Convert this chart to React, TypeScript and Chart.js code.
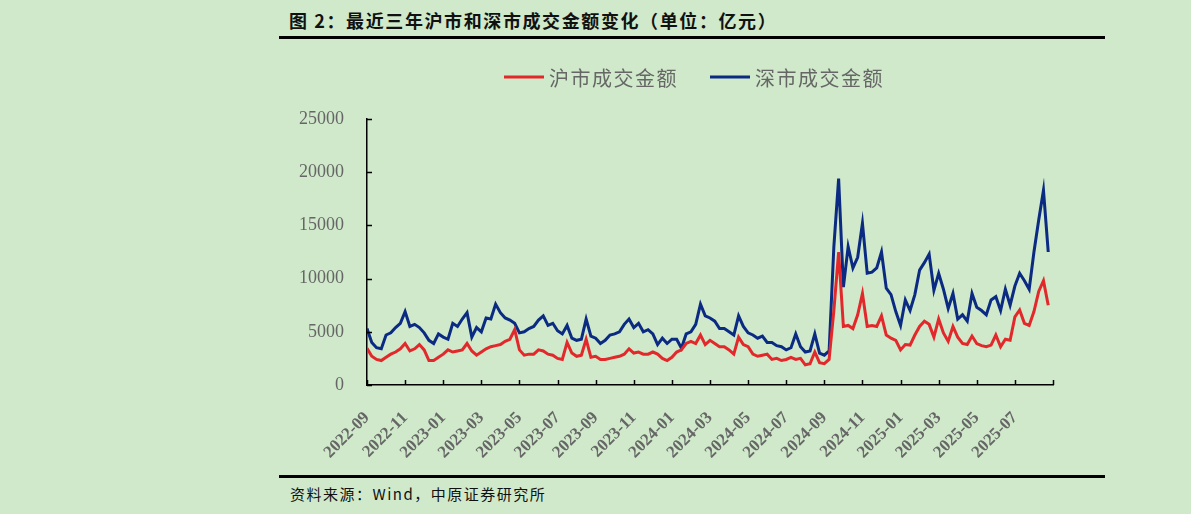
import React, { useEffect, useRef } from 'react';
import { Chart, registerables } from 'chart.js';

Chart.register(...registerables);

// month labels under every second month tick
const monthLabels = [
  '2022-09', '2022-11', '2023-01', '2023-03', '2023-05', '2023-07',
  '2023-09', '2023-11', '2024-01', '2024-03', '2024-05', '2024-07',
  '2024-09', '2024-11', '2025-01', '2025-03', '2025-05', '2025-07',
];

// weekly readings (亿元), first week of 2022-09 onwards
const shAmount = [
  3450, 2700, 2400, 2300, 2600, 2900, 3100, 3400, 3900, 3200,
  3400, 3800, 3300, 2300, 2300, 2600, 2900, 3300, 3100, 3200,
  3300, 3900, 3200, 2800, 3100, 3400, 3600, 3700, 3800, 4100,
  4300, 5200, 3300, 2800, 2900, 2900, 3300, 3200, 2900, 2800,
  2500, 2400, 4000, 3000, 2700, 2800, 4300, 2600, 2700, 2400,
  2400, 2500, 2600, 2700, 2900, 3400, 3000, 3100, 2900, 2900,
  3100, 2900, 2500, 2300, 2600, 3100, 3300, 3900, 4100, 3900,
  4700, 3800, 4200, 3900, 3600, 3600, 3300, 2900, 4500, 3800,
  3600, 2900, 2700, 2800, 2900, 2400, 2500, 2300, 2400, 2600,
  2400, 2500, 1900, 2000, 3100, 2100, 2000, 2400, 7000, 12500,
  5500, 5600, 5300, 6600, 8600, 5500, 5600, 5500, 6500, 4700,
  4400, 4200, 3300, 3800, 3750, 4700, 5500, 6000, 5700, 4500,
  6200, 4900, 4100, 5500, 4500, 3900, 3800, 4600, 3900, 3700,
  3600, 3750, 4700, 3600, 4300, 4200, 6400, 7050, 5800, 5600,
  6900, 8800, 9800, 7500,
];

const szAmount = [
  5300, 4000, 3500, 3400, 4700, 4900, 5400, 5800, 6900, 5500,
  5700, 5400, 4900, 4200, 3900, 4800, 4500, 4300, 5800, 5500,
  6200, 6800, 4500, 5400, 5000, 6300, 6200, 7600, 6800, 6300,
  6100, 5800, 4900, 5000, 5300, 5500, 6100, 6500, 5600, 5800,
  5100, 4800, 5600, 4400, 4200, 4300, 6200, 4600, 4400, 3900,
  4200, 4700, 4800, 5000, 5700, 6200, 5400, 5800, 5000, 5200,
  4800, 3800, 4400, 3900, 4300, 4300, 3450, 4800, 5000, 5700,
  7600, 6500, 6300, 6000, 5300, 5300, 5000, 4700, 6500, 5500,
  4900, 4700, 4400, 4600, 4000, 4000, 3700, 3600, 3300, 3500,
  4800, 3600, 3100, 3200, 4800, 3000, 2800, 3200, 13000, 19400,
  9200, 13000, 11000, 12000, 15200, 10500, 10600, 11000, 12500, 9100,
  8500, 6900, 5600, 8000, 7000, 8500, 10800, 11500, 12300, 8900,
  10500, 9000, 7200, 8600, 6200, 6600, 6000, 8600, 7300, 7000,
  6600, 8000, 8300, 7000, 9000, 7500, 9300, 10500, 9800, 9000,
  12500, 15500, 18300, 12500,
];

const seriesNames = ['沪市成交金额', '深市成交金额'];
const seriesColors = ['#E3282B', '#0B2A82'];

const BG = '#CFE9CA';
const TEXT_GREY = '#666666';
const CJK = '"Noto Sans CJK SC", "Noto Sans", sans-serif';
const SERIF = '"Liberation Serif", "Times New Roman", serif';

// one point per week, x counted in months from 2022-09
const toPoints = (vals: number[]) => vals.map((v, i) => ({ x: i / 4, y: v }));

// short tick marks pointing into the plot, like the Excel original
const innerTicks = {
  id: 'innerTicks',
  afterDraw(chart: any) {
    const { ctx, chartArea, scales } = chart;
    ctx.save();
    ctx.strokeStyle = '#000';
    ctx.lineWidth = 1.5;
    ctx.beginPath();
    scales.x.ticks.forEach((t: any) => {
      const px = Math.round(scales.x.getPixelForValue(t.value)) + 0.5;
      ctx.moveTo(px, chartArea.bottom);
      ctx.lineTo(px, chartArea.bottom - 5);
    });
    scales.y.ticks.forEach((t: any) => {
      const py = Math.round(scales.y.getPixelForValue(t.value)) + 0.5;
      ctx.moveTo(chartArea.left, py);
      ctx.lineTo(chartArea.left + 5, py);
    });
    ctx.stroke();
    ctx.restore();
  },
};

// legend drawn in the top padding: short line + label, centred
const lineLegend = {
  id: 'lineLegend',
  afterDraw(chart: any) {
    const { ctx, width } = chart;
    const boxW = 40;
    const gap = 5;
    const spacing = 32;
    ctx.save();
    ctx.font = `20px ${CJK}`;
    (ctx as any).letterSpacing = '1.5px';
    ctx.textBaseline = 'middle';
    const items = chart.data.datasets.map((ds: any) => ({
      label: ds.label as string,
      color: ds.borderColor as string,
      w: ctx.measureText(ds.label).width,
    }));
    const total = items.reduce((s: number, it: any) => s + boxW + gap + it.w, 0) + spacing * (items.length - 1);
    let x = (width - total) / 2 + 2;
    const y = 32;
    items.forEach((it: any) => {
      ctx.fillStyle = it.color;
      ctx.fillRect(x, y - 1.5, boxW, 3);
      x += boxW + gap;
      ctx.fillStyle = TEXT_GREY;
      ctx.fillText(it.label, x, y + 1);
      x += it.w + spacing;
    });
    ctx.restore();
  },
};

function TurnoverChart() {
  const canvasRef = useRef<HTMLCanvasElement>(null);

  useEffect(() => {
    if (!canvasRef.current) return;
    const chart = new Chart(canvasRef.current, {
      type: 'line',
      data: {
        datasets: [
          {
            label: seriesNames[0],
            data: toPoints(shAmount),
            borderColor: seriesColors[0],
            backgroundColor: seriesColors[0],
            borderWidth: 3,
            pointRadius: 0,
            tension: 0,
          },
          {
            label: seriesNames[1],
            data: toPoints(szAmount),
            borderColor: seriesColors[1],
            backgroundColor: seriesColors[1],
            borderWidth: 3,
            pointRadius: 0,
            tension: 0,
          },
        ],
      },
      options: {
        responsive: false,
        animation: false,
        layout: { padding: { top: 74, right: 52, left: 0, bottom: 0 } },
        plugins: {
          legend: { display: false },
          tooltip: { enabled: false },
        },
        scales: {
          x: {
            type: 'linear',
            min: 0,
            max: 36,
            afterFit: (scale: any) => { scale.height = 85; },
            grid: { display: false },
            border: { display: true, color: '#000', width: 1.5 },
            ticks: {
              stepSize: 2,
              autoSkip: false,
              maxRotation: 45,
              minRotation: 45,
              padding: 15,
              color: TEXT_GREY,
              font: { family: SERIF, size: 17, weight: 'bold' },
              callback: (v: any) => monthLabels[Number(v) / 2] ?? '',
            },
          },
          y: {
            min: 0,
            max: 25000,
            afterFit: (scale: any) => { scale.width = 88; },
            grid: { display: false },
            border: { display: true, color: '#000', width: 1.5 },
            ticks: {
              stepSize: 5000,
              padding: 15,
              color: TEXT_GREY,
              font: { family: SERIF, size: 18 },
              callback: (v: any) => String(v),
            },
          },
        },
      },
      plugins: [innerTicks, lineLegend],
    });
    return () => chart.destroy();
  }, []);

  return <canvas ref={canvasRef} width={826} height={425} />;
}

export default function App() {
  return (
    <div style={{ position: 'fixed', inset: 0, background: BG, overflow: 'hidden' }}>
      <div
        style={{
          position: 'absolute', left: 289, top: 8, fontFamily: CJK, fontWeight: 700,
          fontSize: 18, letterSpacing: 1.6, lineHeight: '24px', color: '#111',
        }}
      >
        图 2：最近三年沪市和深市成交金额变化（单位：亿元）
      </div>
      <div style={{ position: 'absolute', left: 279, top: 36, width: 826, height: 3, background: '#000' }} />
      <div style={{ position: 'absolute', left: 279, top: 45 }}>
        <TurnoverChart />
      </div>
      <div style={{ position: 'absolute', left: 279, top: 475, width: 826, height: 3, background: '#000' }} />
      <div
        style={{
          position: 'absolute', left: 290, top: 484, fontFamily: CJK, fontSize: 15,
          letterSpacing: 1.5, lineHeight: '20px', color: '#111',
        }}
      >
        资料来源：Wind，中原证券研究所
      </div>
    </div>
  );
}
